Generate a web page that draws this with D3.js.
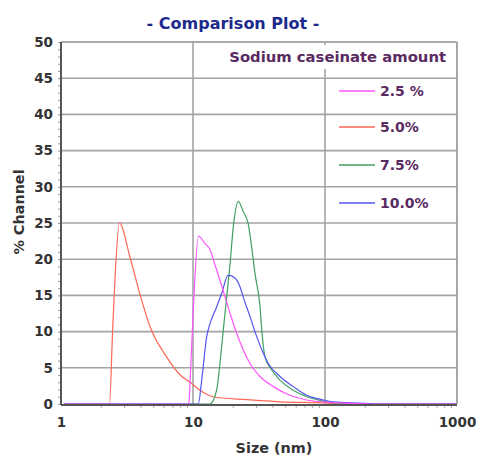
<!DOCTYPE html>
<html>
<head>
<meta charset="utf-8">
<script src="https://cdn.jsdelivr.net/npm/d3@7"></script>
<style>
  body { margin: 0; background: #fff; }
  svg text { font-family: "DejaVu Sans", Verdana, sans-serif; font-weight: bold; }
</style>
</head>
<body>
<div id="chart"></div>
<script>
// particle size distributions (size in nm, % channel)
const size25 = [1.05, 9.3, 9.5, 10.05, 11.0, 12.3, 13.45, 14.7, 16.0, 17.5, 19.1, 21.4, 24.0, 27.0, 32.2, 40.6, 54.3, 72.7, 96.6, 150, 220, 1000]
const val25 = [0, 0, 3, 13, 23.2, 22.2, 21.3, 19.2, 17.1, 14.8, 12.5, 9.8, 7.5, 5.6, 3.8, 2.4, 1.2, 0.55, 0.3, 0.1, 0, 0]

const size50 = [1.05, 2.33, 2.46, 2.57, 2.77, 3.33, 3.97, 4.72, 6.31, 8.0, 9.5, 11.3, 14.1, 25.6, 45.6, 100, 130, 1000]
const val50 = [0, 0, 10.1, 17.6, 25.0, 20.3, 15.1, 10.7, 6.5, 4.0, 3.0, 1.9, 1.0, 0.6, 0.3, 0.15, 0, 0]

const size75 = [1.05, 13.45, 15.1, 16.0, 16.96, 18.0, 19.1, 20.2, 22.0, 24.0, 26.2, 27.8, 29.5, 32.2, 33.2, 35.1, 39.5, 45.6, 57.5, 72.7, 97.1, 122.6, 160, 1000]
const val75 = [0, 0, 1.9, 5.6, 10.2, 14.8, 19.4, 24.5, 28.0, 26.6, 24.9, 21.7, 18.0, 13.4, 10.2, 6.5, 4.7, 3.3, 1.9, 1.0, 0.4, 0.1, 0, 0]

const size100 = [1.05, 10.97, 11.64, 12.7, 13.45, 15.1, 16.5, 18.5, 20.8, 22.7, 24.0, 27.0, 30.4, 34.1, 37.2, 45.6, 57.5, 72.7, 97.1, 122.6, 219, 250, 1000]
const val100 = [0, 0, 3.3, 9.3, 11.1, 13.4, 15.3, 17.8, 17.4, 16.2, 14.8, 12.1, 9.3, 7.0, 5.6, 3.8, 2.4, 1.2, 0.55, 0.25, 0.05, 0, 0]

const seriesNames = ['2.5 %', '5.0%', '7.5%', '10.0%']
const seriesColors = ['#ff55ff', '#ff6655', '#3f9f5f', '#5555f0']
const yTicks = [0, 5, 10, 15, 20, 25, 30, 35, 40, 45, 50]
const xTicks = [1, 10, 100, 1000]

const width = 478, height = 460
const mLeft = 61, mRight = 457, mTop = 42, mBottom = 404

const series = [
  { name: seriesNames[0], color: seriesColors[0], pts: size25.map((s, i) => [s, val25[i]]) },
  { name: seriesNames[1], color: seriesColors[1], pts: size50.map((s, i) => [s, val50[i]]) },
  { name: seriesNames[2], color: seriesColors[2], pts: size75.map((s, i) => [s, val75[i]]) },
  { name: seriesNames[3], color: seriesColors[3], pts: size100.map((s, i) => [s, val100[i]]) }
]

const x = d3.scaleLog().domain([1, 1000]).range([mLeft, mRight])
const y = d3.scaleLinear().domain([0, 50]).range([mBottom, mTop])

const svg = d3.select('#chart').append('svg')
  .attr('width', width).attr('height', height)
  .attr('viewBox', [0, 0, width, height])

// title
svg.append('text')
  .attr('x', 233).attr('y', 29)
  .attr('text-anchor', 'middle')
  .style('font-size', '16px')
  .attr('fill', '#1c2a8c')
  .text('- Comparison Plot -')

// grid
svg.append('g').selectAll('line')
  .data(yTicks.filter(d => d > 0))
  .enter().append('line')
  .attr('x1', mLeft).attr('x2', mRight)
  .attr('y1', d => y(d)).attr('y2', d => y(d))
  .attr('stroke', '#a4a4a4').attr('stroke-width', 1.6)

svg.append('g').selectAll('line')
  .data(xTicks.filter(d => d > 1))
  .enter().append('line')
  .attr('x1', d => x(d)).attr('x2', d => x(d))
  .attr('y1', mTop).attr('y2', mBottom)
  .attr('stroke', '#a4a4a4').attr('stroke-width', 1.6)

// legend title box covers grid
svg.append('rect')
  .attr('x', 218).attr('y', 45).attr('width', 236).attr('height', 24)
  .attr('fill', '#fff')
svg.append('text')
  .attr('x', 446).attr('y', 62)
  .attr('text-anchor', 'end')
  .style('font-size', '14.8px')
  .attr('fill', '#5a2a62')
  .text('Sodium caseinate amount')

// curves
const line = d3.line().x(d => x(d[0])).y(d => y(d[1])).curve(d3.curveMonotoneX)
const drawOrder = [1, 2, 3, 0]
svg.append('g').selectAll('path')
  .data(drawOrder.map(i => series[i]))
  .enter().append('path')
  .attr('d', d => line(d.pts))
  .attr('fill', 'none')
  .attr('stroke', d => d.color)
  .attr('stroke-width', 1.2)

// legend entries
const legendY = [91, 127, 165, 203]
const lg = svg.append('g').selectAll('g')
  .data(series)
  .enter().append('g')
  .attr('transform', (d, i) => `translate(0,${legendY[i]})`)
lg.append('line')
  .attr('x1', 339).attr('x2', 375)
  .attr('stroke', d => d.color).attr('stroke-width', 1.3)
lg.append('text')
  .attr('x', 380).attr('y', 5)
  .style('font-size', '14px')
  .attr('fill', '#5a2a62')
  .text(d => d.name)

// axes
const yAxis = svg.append('g')
  .attr('transform', `translate(${mLeft},0)`)
  .call(d3.axisLeft(y).tickValues(yTicks).tickSize(0).tickPadding(8))
yAxis.select('.domain').remove()
yAxis.selectAll('text').style('font-size', '13.5px').attr('fill', '#333')

svg.append('g')
  .attr('transform', `translate(${mLeft},0)`)
  .call(d3.axisLeft(y).tickValues(d3.range(0, 51, 1)).tickSize(3).tickFormat(''))
  .call(g => g.select('.domain').remove())
  .selectAll('line').attr('stroke', '#999')

const minorX = [2, 3, 4, 5, 6, 7, 8, 9, 20, 30, 40, 50, 60, 70, 80, 90, 200, 300, 400, 500, 600, 700, 800, 900]
svg.append('g')
  .attr('transform', `translate(0,${mBottom})`)
  .call(d3.axisBottom(x).tickValues(minorX).tickSize(4).tickFormat(''))
  .call(g => g.select('.domain').remove())
  .selectAll('line').attr('stroke', '#aaa')

const xAxis = svg.append('g')
  .attr('transform', `translate(0,${mBottom})`)
  .call(d3.axisBottom(x).tickValues(xTicks).tickFormat(d3.format('d')).tickSize(0).tickPadding(13))
xAxis.select('.domain').remove()
xAxis.selectAll('text').style('font-size', '13.5px').attr('fill', '#333')

// frame
svg.append('line').attr('x1', mLeft).attr('x2', mRight).attr('y1', mTop).attr('y2', mTop)
  .attr('stroke', '#a4a4a4').attr('stroke-width', 1.6)
svg.append('line').attr('x1', mRight).attr('x2', mRight).attr('y1', mTop).attr('y2', mBottom)
  .attr('stroke', '#a4a4a4').attr('stroke-width', 1.6)
svg.append('line').attr('x1', mLeft).attr('x2', mLeft).attr('y1', mTop).attr('y2', mBottom + 1)
  .attr('stroke', '#555').attr('stroke-width', 2)
svg.append('line').attr('x1', mLeft).attr('x2', mRight).attr('y1', mBottom + 1).attr('y2', mBottom + 1)
  .attr('stroke', '#555').attr('stroke-width', 2)

// axis titles
svg.append('text')
  .attr('transform', 'translate(24,212) rotate(-90)')
  .attr('text-anchor', 'middle')
  .style('font-size', '14.4px')
  .attr('fill', '#333')
  .text('% Channel')
svg.append('text')
  .attr('x', 274).attr('y', 453)
  .attr('text-anchor', 'middle')
  .style('font-size', '14.4px')
  .attr('fill', '#333')
  .text('Size (nm)')
</script>
</body>
</html>
